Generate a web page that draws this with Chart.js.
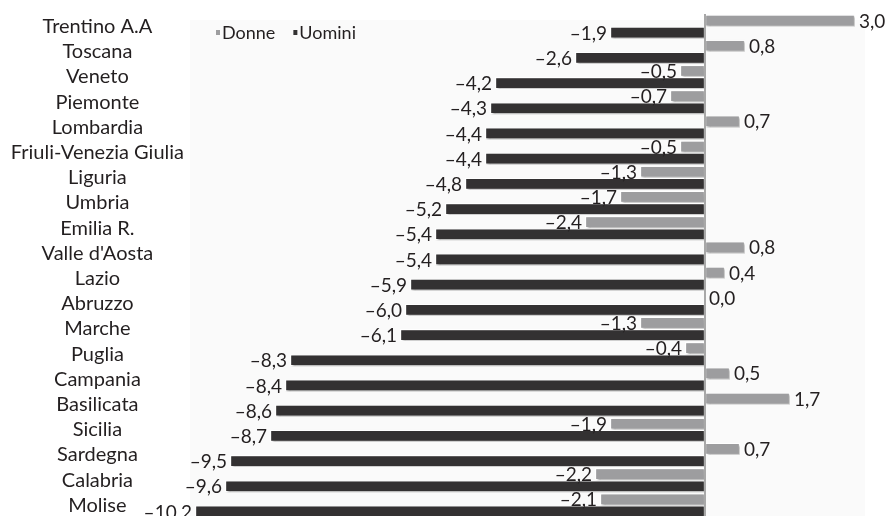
<!DOCTYPE html>
<html lang="it">
<head>
    <meta charset="UTF-8">
    <title>Donne e Uomini per regione</title>
    <style>
        html, body { margin: 0; padding: 0; background: #fff; overflow: hidden; }
        #box { width: 888px; height: 530px; }
    </style>
</head>
<body>
    <div id="box"><canvas id="grafico" width="888" height="530"></canvas></div>

    <script src="https://cdn.jsdelivr.net/npm/chart.js"></script>
    <script>
        const regioni = ['Trentino A.A', 'Toscana', 'Veneto', 'Piemonte', 'Lombardia',
            'Friuli-Venezia Giulia', 'Liguria', 'Umbria', 'Emilia R.', "Valle d'Aosta",
            'Lazio', 'Abruzzo', 'Marche', 'Puglia', 'Campania', 'Basilicata',
            'Sicilia', 'Sardegna', 'Calabria', 'Molise'];
        const donne = [3.0, 0.8, -0.5, -0.7, 0.7, -0.5, -1.3, -1.7, -2.4, 0.8,
            0.4, 0.0, -1.3, -0.4, 0.5, 1.7, -1.9, 0.7, -2.2, -2.1];
        const uomini = [-1.9, -2.6, -4.2, -4.3, -4.4, -4.4, -4.8, -5.2, -5.4, -5.4,
            -5.9, -6.0, -6.1, -8.3, -8.4, -8.6, -8.7, -9.5, -9.6, -10.2];

        const FONT = 'Lato, "Open Sans", sans-serif';

        function formatta(v) {
            return v.toFixed(1).replace('.', ',').replace('-', '\u2013');
        }

        // sfondo chiaro, ombre, linea dello zero, etichette e legenda
        const extra = {
            id: 'extra',
            beforeDraw(chart) {
                const { ctx, chartArea, scales } = chart;
                ctx.save();
                ctx.fillStyle = '#fafafa';
                const x1 = scales.x.getPixelForValue(3.2);
                ctx.fillRect(chartArea.left, chartArea.top + 6, x1 - chartArea.left, chartArea.bottom);
                ctx.restore();
            },
            beforeDatasetDraw(chart) {
                const ctx = chart.ctx;
                ctx.save();
                ctx.shadowColor = 'rgba(0,0,0,0.3)';
                ctx.shadowOffsetX = 1.5;
                ctx.shadowOffsetY = 1.5;
                ctx.shadowBlur = 2;
            },
            afterDatasetDraw(chart) {
                chart.ctx.restore();
            },
            afterDatasetsDraw(chart) {
                const { ctx, chartArea, scales } = chart;
                const x0 = scales.x.getPixelForValue(0);
                ctx.save();
                ctx.strokeStyle = '#a8a8a8';
                ctx.lineWidth = 2;
                ctx.beginPath();
                ctx.moveTo(x0, chartArea.top);
                ctx.lineTo(x0, chartArea.bottom);
                ctx.stroke();

                ctx.font = '19px ' + FONT;
                ctx.fillStyle = '#231f20';
                ctx.textBaseline = 'middle';
                chart.data.datasets.forEach((ds, i) => {
                    chart.getDatasetMeta(i).data.forEach((bar, j) => {
                        const v = ds.data[j];
                        if (v >= 0) {
                            ctx.textAlign = 'left';
                            ctx.fillText(formatta(v), bar.x + 4, bar.y + 1);
                        } else {
                            ctx.textAlign = 'right';
                            ctx.fillText(formatta(v), bar.x - 3, bar.y + 1);
                        }
                    });
                });

                // legenda
                let lx = chartArea.left + 26;
                const ly = 33;
                ctx.font = '18px ' + FONT;
                ctx.textAlign = 'left';
                chart.data.datasets.forEach(ds => {
                    ctx.fillStyle = ds.backgroundColor;
                    ctx.fillRect(lx, ly - 3, 4, 5);
                    ctx.fillStyle = '#231f20';
                    ctx.fillText(ds.label, lx + 6, ly);
                    lx += 6 + ctx.measureText(ds.label).width + 18;
                });
                ctx.restore();
            }
        };

        const ctx = document.getElementById('grafico').getContext('2d');
        const grafico = new Chart(ctx, {
            type: 'bar',
            data: {
                labels: regioni,
                datasets: [
                    {
                        label: 'Donne',
                        data: donne,
                        backgroundColor: '#9d9d9f',
                        borderColor: '#ffffff',
                        borderWidth: 1.2,
                        borderSkipped: false
                    },
                    {
                        label: 'Uomini',
                        data: uomini,
                        backgroundColor: '#333132',
                        borderColor: '#ffffff',
                        borderWidth: 1.2,
                        borderSkipped: false
                    }
                ]
            },
            options: {
                indexAxis: 'y',
                responsive: false,
                animation: false,
                devicePixelRatio: 1,
                categoryPercentage: 0.96,
                barPercentage: 1.0,
                layout: { padding: { top: 14, right: 0, bottom: 0, left: 0 } },
                plugins: {
                    legend: { display: false },
                    tooltip: { enabled: false }
                },
                scales: {
                    x: {
                        min: -10.3,
                        max: 3.66,
                        grid: { display: false },
                        border: { display: false },
                        ticks: { display: false },
                        afterFit(scale) { scale.height = 0; }
                    },
                    y: {
                        grid: { display: false, drawTicks: true, tickLength: 6 },
                        border: { display: false },
                        ticks: {
                            autoSkip: false,
                            crossAlign: 'center',
                            color: '#231f20',
                            padding: 0,
                            font: { family: FONT, size: 20 }
                        },
                        afterFit(scale) { scale.width = 190; }
                    }
                }
            },
            plugins: [extra]
        });
    </script>
</body>
</html>
